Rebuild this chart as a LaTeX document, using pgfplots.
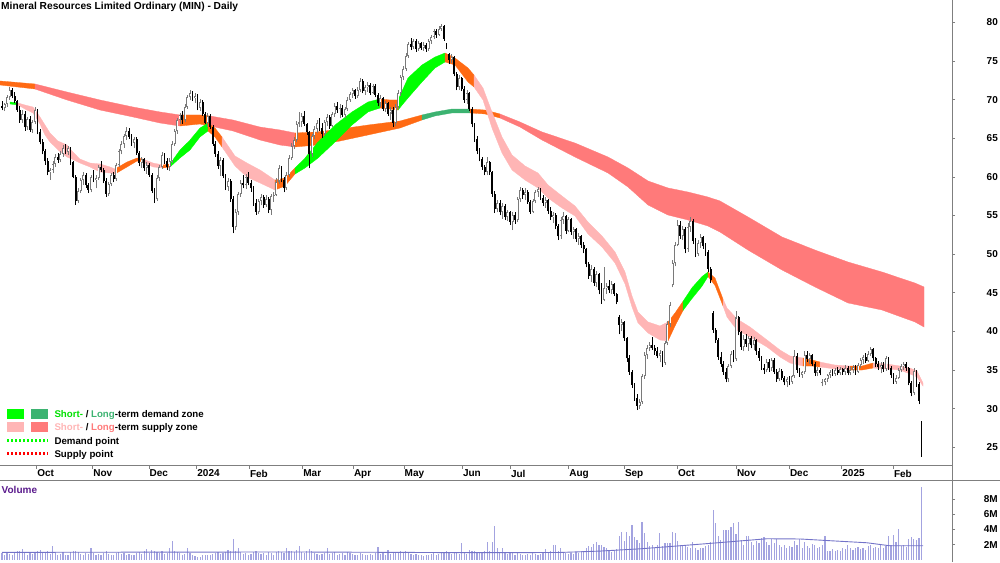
\documentclass[border=0pt]{standalone}
\usepackage{fontspec}
\setmainfont{Liberation Sans}
\usepackage{pgfplots}
\usepackage{pgfplotstable}
\usetikzlibrary{calc}
\pgfplotsset{compat=1.18}

\definecolor{stdem}{HTML}{00FF00}
\definecolor{stdemtxt}{HTML}{00E000}
\definecolor{ltdem}{HTML}{3CB371}
\definecolor{stsup}{HTML}{FFB5B5}
\definecolor{ltsup}{HTML}{FF7A7A}
\definecolor{trans}{HTML}{FF6A13}
\definecolor{volbar}{HTML}{A3A3E0}
\definecolor{volma}{HTML}{7373C8}
\definecolor{volttl}{HTML}{5A1A8C}
\definecolor{upc}{HTML}{7A7A7A}
\definecolor{axgray}{HTML}{7F7F7F}

\pgfplotstableread{
o h l c v
69.2 69.8 68.6 68.9 0.9
68.9 69.6 68.5 69.4 0.7
69.4 70.6 69.1 70.3 1.0
70.3 71.6 70.0 71.2 0.8
71.2 71.5 70.2 70.5 0.6
70.5 71.0 69.6 69.8 0.9
69.8 70.0 68.4 68.6 1.1
68.6 69.2 67.0 67.3 1.2
67.3 68.6 67.0 68.2 1.4
68.2 68.5 66.0 66.4 0.9
66.4 67.8 66.1 67.5 0.7
67.5 67.9 65.8 66.1 1.0
66.1 67.4 65.7 67.1 0.8
67.1 69.0 66.8 68.6 0.9
68.6 68.8 65.5 65.8 1.1
65.8 66.2 64.2 64.5 1.3
64.5 64.9 62.9 63.3 1.0
63.3 63.6 61.6 62.0 0.9
62.0 62.4 60.2 60.6 1.1
60.6 61.2 59.6 60.9 0.8
60.9 62.0 60.5 61.7 1.8
61.7 63.0 61.3 62.6 0.9
62.6 63.1 61.8 62.2 0.7
62.2 63.3 61.9 63.0 0.8
63.0 64.1 62.6 63.8 1.0
63.8 64.2 62.9 63.2 0.6
63.2 64.0 62.8 63.7 0.7
63.7 63.9 61.6 61.9 1.0
61.9 62.1 59.8 60.0 1.1
60.0 60.2 56.4 56.9 1.2
56.9 58.5 56.6 58.2 1.0
58.2 59.9 57.9 59.6 0.8
59.6 60.6 59.0 60.2 0.7
60.2 60.5 58.6 58.9 0.9
58.9 59.2 57.9 58.3 0.8
58.3 60.3 58.0 60.0 1.5
60.0 60.9 59.3 59.6 0.9
59.6 60.2 58.5 59.9 0.7
59.9 61.6 59.6 61.3 0.8
61.3 62.1 60.6 60.9 0.6
60.9 61.1 59.2 59.5 0.9
59.5 59.8 57.4 57.8 1.1
57.8 59.4 57.5 59.1 0.8
59.1 60.5 58.8 60.2 0.7
60.2 60.6 59.3 59.7 0.6
59.7 61.8 59.5 61.5 0.9
61.5 63.6 61.3 63.3 1.0
63.3 64.6 62.9 64.2 0.8
64.2 65.6 63.8 65.3 0.9
65.3 66.4 64.8 66.0 0.7
66.0 66.3 64.9 65.2 0.8
65.2 65.6 64.0 64.4 0.6
64.4 65.2 63.7 64.9 0.7
64.9 65.1 62.8 63.1 0.9
63.1 63.4 61.4 61.8 1.0
61.8 62.6 61.2 62.3 0.8
62.3 62.5 60.8 61.1 1.1
61.1 61.9 60.4 61.6 1.4
61.6 61.8 60.0 60.3 0.9
60.3 60.5 57.9 58.2 1.3
58.2 58.5 56.6 57.1 1.2
57.1 60.2 56.9 59.9 1.0
59.9 61.6 59.5 61.3 0.9
61.3 63.2 61.0 62.8 1.1
62.8 63.1 61.7 62.1 0.8
62.1 62.4 60.9 61.3 0.9
61.3 62.4 60.8 62.0 1.6
62.0 64.6 61.8 64.3 2.5
64.3 66.2 64.0 65.9 1.2
65.9 67.6 65.6 67.3 1.0
67.3 68.3 66.8 68.0 0.9
68.0 68.5 66.9 67.4 0.7
67.4 69.4 67.1 69.1 0.8
69.1 70.6 68.8 70.3 1.5
70.3 71.2 69.9 70.9 0.9
70.9 71.1 69.8 70.2 0.6
70.2 70.8 69.6 70.5 0.5
70.5 70.7 68.6 68.9 0.4
68.9 70.1 68.5 69.7 0.4
69.7 69.9 67.9 68.2 0.6
68.2 68.4 66.8 67.0 0.7
67.0 68.3 66.5 67.9 0.6
67.9 68.1 66.2 66.5 0.7
66.5 66.7 64.0 64.3 0.8
64.3 64.6 62.6 63.0 0.9
63.0 63.3 61.0 61.4 1.0
61.4 62.6 60.1 62.2 0.8
62.2 62.4 59.8 60.1 0.9
60.1 60.4 58.3 58.7 1.0
58.7 59.9 58.2 59.5 1.3
59.5 59.7 56.8 57.2 1.1
57.2 57.5 52.7 53.5 2.8
53.5 55.8 53.1 55.4 1.2
55.4 58.1 55.1 57.8 1.5
57.8 59.6 57.4 59.2 1.0
59.2 60.2 58.5 58.9 0.8
58.9 60.4 58.4 60.0 0.9
60.0 60.6 58.9 59.2 0.7
59.2 59.6 58.1 58.5 0.8
58.5 58.8 56.2 56.6 1.0
56.6 57.1 55.1 55.5 1.1
55.5 57.2 55.2 56.9 0.9
56.9 57.8 56.3 57.4 0.8
57.4 57.6 56.0 56.4 0.9
56.4 57.6 56.1 57.2 0.7
57.2 57.4 55.3 55.7 1.0
55.7 57.8 55.1 57.5 0.9
57.5 58.0 56.8 57.7 0.7
57.7 59.8 57.5 59.4 1.0
59.4 61.5 59.1 61.2 1.2
61.2 61.4 59.3 59.6 1.0
59.6 60.0 58.0 58.5 0.9
58.5 60.6 58.3 60.3 1.5
60.3 62.8 60.0 62.5 1.1
62.5 64.4 62.2 64.0 1.2
64.0 65.2 63.6 64.8 1.0
64.8 67.2 64.5 66.9 1.3
66.9 68.4 66.5 67.1 1.8
67.1 68.3 66.4 67.9 1.0
67.9 68.5 66.6 66.9 0.9
66.9 67.0 65.4 65.8 1.1
65.8 66.0 61.1 63.0 1.4
63.0 65.6 62.6 65.3 1.2
65.3 66.6 64.9 66.2 0.9
66.2 67.4 65.7 67.0 0.8
67.0 67.6 65.9 66.3 0.7
66.3 67.0 65.0 65.6 0.8
65.6 67.4 65.3 67.1 0.9
67.1 68.2 66.6 67.8 1.6
67.8 68.0 66.2 66.6 0.8
66.6 68.4 66.4 68.1 0.9
68.1 69.5 67.8 69.2 1.0
69.2 69.7 68.3 68.6 0.7
68.6 69.4 67.6 68.9 0.8
68.9 69.3 67.7 68.0 0.9
68.0 69.1 67.6 68.8 0.7
68.8 70.3 68.5 70.0 1.0
70.0 71.0 69.7 70.7 0.9
70.7 71.5 70.2 71.2 0.8
71.2 71.4 70.1 70.5 0.6
70.5 71.6 70.2 71.3 0.7
71.3 72.8 71.0 72.4 0.9
72.4 72.7 70.8 71.1 0.8
71.1 71.9 70.6 71.6 0.6
71.6 72.3 71.0 71.9 0.7
71.9 72.1 70.6 70.9 0.8
70.9 72.0 70.7 71.7 0.6
71.7 72.0 70.3 70.6 0.9
70.6 70.9 69.2 69.5 1.7
69.5 70.6 69.1 70.2 0.8
70.2 70.4 68.5 68.8 0.9
68.8 69.8 68.4 69.5 0.7
69.5 69.7 67.9 68.2 1.3
68.2 69.1 67.4 68.7 0.8
68.7 69.0 66.5 67.0 1.0
67.0 69.4 66.6 69.1 0.9
69.1 71.2 68.8 70.8 1.0
70.8 73.2 70.5 72.9 1.2
72.9 74.3 72.6 74.0 1.0
74.0 76.0 73.7 75.7 1.1
75.7 77.5 75.4 77.2 1.0
77.2 78.0 76.4 76.8 0.8
76.8 77.9 76.5 77.6 0.7
77.6 77.8 76.2 76.6 0.8
76.6 77.6 76.3 77.3 0.6
77.3 77.5 76.4 76.7 0.7
76.7 77.4 76.3 77.1 0.5
77.1 77.3 76.2 76.5 0.6
76.5 77.9 76.3 77.6 0.7
77.6 78.4 77.2 78.1 0.8
78.1 79.2 77.9 78.9 0.9
78.9 79.1 78.0 78.4 0.7
78.4 79.5 78.2 79.2 0.8
79.2 79.8 78.9 79.5 0.9
79.5 79.7 77.6 77.9 1.0
77.0 77.3 76.5 76.8 1.1
75.9 76.0 74.6 75.1 1.0
75.1 75.9 74.8 75.5 0.8
75.5 75.6 73.0 73.3 0.9
73.3 73.6 71.2 71.6 1.0
71.6 73.2 71.3 72.8 0.8
72.8 72.9 71.1 71.4 2.2
71.4 71.7 69.6 70.0 1.0
70.0 71.3 69.4 70.9 0.8
70.9 71.0 68.5 68.8 1.3
68.8 69.0 66.4 66.8 1.1
66.8 67.0 64.5 64.9 1.2
64.9 65.3 62.9 63.4 1.0
63.4 63.7 62.0 62.3 0.9
62.3 62.6 60.9 61.3 1.0
61.3 61.6 60.2 60.6 1.1
60.6 62.6 60.3 61.9 2.3
61.9 62.1 60.3 60.6 1.2
60.6 60.7 57.4 57.8 2.4
57.8 58.2 55.3 55.8 4.4
55.8 57.0 55.4 56.6 1.5
56.6 57.0 55.0 55.4 1.0
55.4 56.6 54.6 56.2 1.6
56.2 56.5 54.4 54.8 0.9
54.8 55.7 54.3 55.4 0.8
55.4 55.6 53.8 54.2 0.9
54.2 55.5 53.1 55.1 1.0
55.1 55.5 53.9 54.4 0.7
54.4 57.4 54.1 57.1 1.0
57.1 58.7 56.8 58.3 0.8
58.3 58.6 57.2 57.6 0.7
57.6 58.5 57.0 58.1 0.6
58.1 58.3 56.5 56.8 0.8
56.8 57.0 55.2 55.5 0.7
55.5 57.2 55.3 56.9 0.9
56.9 58.3 56.6 58.0 0.8
58.0 58.7 57.4 58.4 0.7
58.4 58.6 57.0 57.3 0.8
57.3 57.6 56.2 56.6 1.0
56.6 57.4 56.0 57.0 1.4
57.0 57.1 55.2 55.6 0.9
55.6 56.1 54.4 54.8 1.1
54.8 55.4 54.0 55.1 2.0
55.1 55.3 53.2 53.6 2.0
53.6 53.9 51.8 52.3 1.2
52.3 54.8 52.0 54.4 1.6
54.4 55.4 53.9 54.9 1.0
54.9 55.1 52.6 53.0 0.9
53.0 54.8 52.8 54.5 0.8
54.5 54.7 52.5 52.9 0.9
52.9 53.5 52.0 53.2 0.8
53.2 53.4 51.6 51.9 1.0
51.9 52.7 51.2 52.3 0.9
52.3 52.5 50.8 51.2 1.1
51.2 51.6 50.1 50.6 1.2
50.6 50.8 48.3 48.7 1.5
48.7 49.0 46.8 47.2 1.8
47.2 48.6 46.4 48.1 1.7
48.1 48.3 45.9 46.3 2.1
46.3 47.8 45.7 47.4 2.3
47.4 47.6 44.8 45.3 1.9
45.3 46.2 43.6 44.1 2.0
44.1 48.3 43.9 45.6 1.7
45.6 46.3 44.9 45.9 1.6
45.9 46.6 45.0 45.3 1.2
45.3 46.5 44.8 46.1 1.0
46.1 46.3 44.6 44.9 1.3
44.9 45.0 43.5 43.8 1.4
41.9 42.1 39.6 40.8 3.2
40.8 41.6 40.0 41.2 3.7
41.2 41.4 38.8 39.1 2.5
39.1 39.3 36.1 36.5 3.7
36.5 36.9 34.4 34.8 3.2
34.8 35.0 32.7 33.1 4.6
33.1 33.3 31.0 31.4 3.0
31.4 31.9 29.8 30.4 2.6
30.4 31.2 30.0 30.9 2.2
30.9 34.5 30.6 34.2 5.0
34.2 37.3 33.9 36.9 3.6
36.9 38.3 36.4 37.9 2.3
37.9 38.6 37.4 38.2 1.8
38.2 39.3 37.6 37.9 2.0
37.9 38.2 37.0 37.4 1.6
37.4 38.0 36.5 36.8 1.9
36.8 37.6 36.0 37.2 3.6
37.2 37.4 35.4 35.9 1.8
35.9 38.8 35.7 38.5 2.2
38.5 41.3 38.2 40.9 2.2
40.9 43.8 40.6 43.4 2.2
46.0 49.2 45.7 48.8 3.7
48.8 51.6 48.4 51.2 3.6
51.2 54.4 51.0 53.8 2.5
53.8 54.3 52.0 52.4 1.9
52.4 53.6 51.8 53.2 1.8
53.2 53.5 50.1 50.6 2.0
50.6 54.0 50.3 53.5 1.7
53.5 54.8 52.9 54.3 1.6
54.3 54.6 51.3 51.7 2.4
51.7 52.1 49.6 50.0 1.6
50.0 51.8 49.7 51.4 1.3
51.4 52.6 50.8 52.2 1.5
52.2 52.4 50.6 51.0 1.5
51.0 51.5 49.8 50.3 1.8
50.3 50.5 47.7 48.1 2.0
48.1 48.3 46.2 46.6 2.3
42.4 42.6 39.8 40.2 6.6
40.2 40.5 38.5 38.9 4.9
38.9 39.1 36.3 36.7 3.2
36.7 37.3 35.4 35.8 2.6
35.8 36.2 34.4 34.8 4.0
34.8 35.2 33.4 33.8 3.9
33.8 35.8 33.5 35.5 4.0
35.5 37.4 35.2 37.1 4.3
37.1 37.6 36.0 36.4 4.9
36.4 42.7 36.2 41.8 3.4
41.8 42.0 39.5 39.9 5.0
39.9 40.1 37.6 38.0 2.6
38.0 39.5 37.4 39.0 2.0
39.0 39.6 38.0 38.4 3.2
38.4 39.4 37.5 39.1 3.1
39.1 39.4 37.8 38.2 2.3
38.2 39.3 37.6 38.9 2.0
38.9 39.0 37.0 37.4 2.5
37.4 37.8 36.2 36.6 2.2
36.6 36.8 35.0 35.3 2.9
35.3 35.8 34.5 35.0 3.0
35.0 36.4 34.7 36.1 2.3
36.1 36.4 34.8 35.2 2.0
35.2 36.6 34.9 36.3 2.7
36.3 36.5 34.5 34.8 2.2
34.8 35.1 33.5 33.9 2.7
33.9 35.2 33.6 34.9 1.9
34.9 35.1 33.7 34.0 1.7
34.0 34.2 33.0 33.4 2.0
33.4 34.1 32.8 33.8 1.6
33.8 34.2 33.0 33.5 1.8
33.5 34.4 33.2 34.2 1.7
34.2 37.6 34.0 36.8 2.5
36.8 37.2 34.6 35.0 2.0
35.0 35.2 34.1 34.4 2.7
34.4 34.9 34.0 34.7 1.5
34.7 37.4 34.5 37.0 2.3
37.0 37.5 36.1 36.4 1.8
36.4 37.2 35.8 36.9 1.6
36.9 37.1 35.5 35.8 2.1
35.8 36.0 34.2 34.6 1.9
34.6 35.4 34.2 35.0 1.5
35.0 35.2 34.3 34.6 1.7
33.3 33.8 32.9 33.4 2.0
33.4 34.0 33.0 33.8 3.2
33.8 34.5 33.5 34.3 1.2
34.3 35.0 34.0 34.7 1.1
34.7 35.1 34.2 34.5 1.4
34.5 35.3 34.2 35.0 1.2
35.0 35.4 34.3 34.6 1.3
34.6 35.4 34.3 35.1 1.1
35.1 35.3 34.4 34.7 1.5
34.7 35.6 34.4 35.3 1.4
35.3 35.5 34.3 34.6 1.9
34.6 35.4 34.3 35.0 1.5
35.0 35.6 34.6 35.4 1.3
35.4 35.6 34.4 34.8 1.6
34.8 35.9 34.6 35.6 1.7
35.6 36.6 35.3 36.3 1.4
36.3 37.0 35.8 36.7 1.5
36.7 37.2 35.9 36.2 1.3
36.2 37.4 36.0 37.1 1.8
37.1 38.0 36.8 37.7 2.0
37.7 37.9 36.2 36.5 1.6
36.5 36.7 35.4 35.8 1.7
35.8 36.2 35.0 35.4 1.5
35.4 36.0 34.6 35.7 1.9
35.7 36.0 34.8 35.1 1.6
35.1 36.8 34.9 36.5 1.8
36.5 36.7 35.0 35.3 3.1
35.3 35.5 34.0 34.4 2.0
34.4 34.6 33.2 33.5 3.3
33.5 34.3 33.2 34.0 2.3
34.0 35.2 33.8 35.0 4.1
35.0 35.8 34.7 35.5 1.8
35.5 36.0 35.0 35.8 1.9
35.8 36.1 34.9 35.2 1.7
35.2 35.4 33.0 33.3 2.8
33.3 33.6 31.6 32.0 3.0
32.0 35.2 31.8 34.9 2.7
34.9 35.0 32.8 33.2 2.6
33.2 33.4 30.6 31.0 2.9
28.2 28.4 23.8 24.2 9.6
}\price

\newcommand{\band}[2]{\addplot[fill=#1, draw=#1, line width=0.3pt, mark=none] coordinates {#2} -- cycle;}

\begin{document}
\begin{tikzpicture}[x=1pt,y=1pt]

\begin{axis}[
  at={(0,96.3)}, anchor=south west,
  scale only axis, width=952pt, height=465.7pt,
  xmin=0, xmax=952, ymin=22.62, ymax=82.89,
  axis x line*=bottom, axis y line*=right,
  axis line style={-, draw=axgray, line width=0.9pt},
  tick align=outside, major tick length=3pt,
  tick style={draw=axgray, line width=0.6pt},
  xtick={36.7,92.7,149,196.7,249.3,302.7,353.3,404,462.3,510.3,568.7,624.3,677.3,736.3,789.3,841.7,893.3},
  xticklabels={Oct,Nov,Dec,2024,Feb,Mar,Apr,May,Jun,Jul,Aug,Sep,Oct,Nov,Dec,2025,Feb},
  xticklabel style={anchor=north west, inner sep=0pt, xshift=0.5pt, yshift=-1pt, font=\fontsize{10}{12}\selectfont\bfseries},
  ytick={25,30,35,40,45,50,55,60,65,70,75,80},
  yticklabels={25,30,35,40,45,50,55,60,65,70,75,80},
  yticklabel style={anchor=east, inner sep=0pt, xshift=43pt, font=\fontsize{10}{12}\selectfont\bfseries},
]
\coordinate (O) at (rel axis cs:0,0);
% long-term band
\band{trans}{(0,72.41)(35,72.02)(35,71.37)(0,71.89)}
\band{ltsup}{(35,72.02)(67,70.98)(100,69.95)(133,69.04)(160,68.40)(180,68.01)(180,66.58)(160,66.97)(133,67.75)(100,68.65)(67,69.95)(35,71.37)}
\band{trans}{(180,68.01)(200,68.01)(210,67.88)(210,66.58)(200,66.84)(180,66.58)}
\band{ltsup}{(210,67.88)(233,67.36)(260,66.45)(280,66.07)(295,65.68)(295,63.87)(280,64.12)(260,64.77)(233,65.94)(210,66.58)}
\band{trans}{(295,65.68)(317,65.81)(340,66.19)(368,66.71)(400,67.23)(422,68.01)(422,67.36)(400,66.32)(368,65.42)(340,64.64)(317,64.12)(295,63.87)}
\band{ltdem}{(422,68.01)(435,68.40)(452,68.78)(470,68.78)(470,68.27)(452,68.27)(435,67.88)(422,67.36)}
\band{trans}{(470,68.78)(485,68.65)(500,68.14)(500,67.62)(485,68.14)(470,68.27)}
\band{ltsup}{(500,68.14)(520,67.10)(542,65.81)(575,64.38)(608,62.57)(628,61.15)(648,59.47)(668,58.56)(688,58.04)(708,57.39)(720,56.88)(748,54.81)(782,52.22)(815,50.53)(848,48.98)(882,47.69)(915,46.26)(924,45.75)(924,40.57)(915,41.22)(882,42.77)(848,43.68)(815,45.75)(782,47.95)(748,50.53)(720,52.86)(708,53.64)(688,54.42)(668,55.06)(648,56.36)(628,58.69)(608,60.50)(575,62.57)(542,64.77)(520,66.45)(500,67.62)}
% short-term band
\band{stdem}{(10,69.69)(18,69.56)(18,69.30)(10,69.43)}
\band{stsup}{(18,69.56)(25,69.30)(33,69.04)(40,67.75)(45,66.71)(50,65.68)(58,64.64)(67,64.12)(72,63.35)(80,62.31)(90,61.79)(100,61.67)(110,61.28)(115,61.02)(115,60.37)(110,60.50)(100,60.63)(90,61.28)(80,61.79)(72,62.31)(67,62.57)(58,63.48)(50,64.51)(45,65.42)(40,66.84)(33,68.27)(25,68.78)(18,69.30)}
\band{trans}{(115,61.02)(127,61.92)(137,62.44)(143,62.31)(143,61.92)(137,62.05)(127,61.28)(115,60.37)}
\band{stsup}{(143,62.31)(153,61.79)(163,61.54)(163,61.15)(153,61.28)(143,61.92)}
\band{trans}{(163,61.54)(170,61.67)(170,61.28)(163,61.15)}
\band{stdem}{(170,61.67)(180,63.48)(190,64.77)(200,66.32)(208,66.97)(208,65.94)(200,65.16)(190,63.48)(180,62.44)(170,61.28)}
\band{trans}{(208,66.97)(215,66.32)(222,65.16)(222,63.87)(215,65.16)(208,65.94)}
\band{stsup}{(222,65.16)(235,62.70)(247,61.79)(260,60.89)(275,59.59)(275,58.30)(260,59.21)(247,59.98)(235,61.41)(222,63.87)}
\band{trans}{(275,59.59)(285,59.85)(295,61.15)(295,60.37)(285,58.82)(275,58.30)}
\band{stdem}{(295,61.15)(305,62.44)(318,64.51)(335,66.71)(352,68.40)(368,69.69)(380,70.08)(380,68.91)(368,68.40)(352,66.71)(335,64.51)(318,62.44)(305,61.15)(295,60.37)}
\band{trans}{(380,70.08)(390,69.95)(398,69.95)(398,68.65)(390,68.78)(380,68.91)}
\band{stdem}{(398,69.95)(408,72.80)(422,74.48)(435,75.51)(445,76.03)(445,74.87)(435,74.09)(422,72.28)(408,70.21)(398,68.65)}
\band{trans}{(445,76.03)(455,75.38)(468,74.09)(474,73.18)(474,71.63)(468,72.28)(455,74.48)(445,74.87)}
\band{stsup}{(474,73.18)(483,71.50)(492,68.40)(502,65.16)(512,62.83)(525,61.41)(538,60.50)(548,58.95)(562,57.52)(575,56.23)(588,54.16)(602,52.35)(615,50.28)(625,47.69)(632,44.58)(638,42.51)(648,41.22)(660,40.70)(668,41.22)(668,38.76)(660,38.89)(648,39.79)(638,41.09)(632,43.16)(625,46.14)(615,48.85)(602,50.92)(588,52.61)(575,54.94)(562,55.97)(548,57.26)(538,58.56)(525,59.59)(512,60.89)(502,63.09)(492,66.32)(483,69.95)(474,71.63)}
\band{trans}{(668,41.22)(675,42.38)(683,43.90)(683,42.70)(675,40.70)(668,38.76)}
\band{stdem}{(683,43.90)(692,45.65)(702,47.10)(708,47.69)(708,47.10)(702,45.85)(692,44.25)(683,42.70)}
\band{trans}{(708,47.69)(715,46.91)(723,44.19)(723,43.29)(715,45.95)(708,47.10)}
\band{stsup}{(723,44.19)(727,43.03)(737,41.61)(750,40.57)(767,38.89)(780,37.59)(790,36.82)(803,36.56)(803,35.52)(790,35.91)(780,36.69)(767,37.98)(750,39.28)(737,40.18)(727,41.86)(723,43.29)}
\band{trans}{(803,36.56)(812,36.30)(820,36.04)(820,35.39)(812,35.52)(803,35.52)}
\band{stsup}{(820,36.04)(835,35.65)(850,35.52)(850,35.00)(835,35.14)(820,35.39)}
\band{trans}{(850,35.52)(862,35.52)(873,35.91)(873,35.26)(862,35.00)(850,35.00)}
\band{stsup}{(873,35.91)(887,35.78)(900,35.52)(910,35.26)(917,34.88)(923,33.32)(923,32.93)(917,34.10)(910,34.49)(900,35.00)(887,35.14)(873,35.26)}
% wicks
\addplot[draw=none, mark=none, error bars/.cd, y dir=plus, y explicit, error mark=none,
  error bar style={draw=upc, line width=0.6pt}]
  table[x expr={2+2.54*\coordindex}, y=l, y error plus expr={\thisrow{c}>=\thisrow{o} ? \thisrow{h}-\thisrow{l} : 0}]{\price};
\addplot[draw=none, mark=none, error bars/.cd, y dir=plus, y explicit, error mark=none,
  error bar style={draw=black, line width=0.6pt}]
  table[x expr={2+2.54*\coordindex}, y=l, y error plus expr={\thisrow{c}<\thisrow{o} ? \thisrow{h}-\thisrow{l} : 0}]{\price};
% bodies: up (hollow grey), down (black)
\addplot[draw=none, mark=none, error bars/.cd, y dir=plus, y explicit, error mark=none,
  error bar style={draw=upc, line width=2.0pt}]
  table[x expr={2+2.54*\coordindex}, y=o, y error plus expr={max(\thisrow{c}-\thisrow{o},0)}]{\price};
\addplot[draw=none, mark=none, error bars/.cd, y dir=plus, y explicit, error mark=none,
  error bar style={draw=white, line width=0.7pt}]
  table[x expr={2+2.54*\coordindex}, y expr={\thisrow{o}+0.13}, y error plus expr={max(\thisrow{c}-\thisrow{o}-0.26,0)}]{\price};
\addplot[draw=none, mark=none, error bars/.cd, y dir=plus, y explicit, error mark=none,
  error bar style={draw=black, line width=1.8pt}]
  table[x expr={2+2.54*\coordindex}, y=c, y error plus expr={max(\thisrow{o}-\thisrow{c},0)}]{\price};
\end{axis}

\begin{axis}[
  at={($(O)+(0,-94.1)$)}, anchor=south west,
  scale only axis, width=952pt, height=79.8pt,
  xmin=0, xmax=952, ymin=0, ymax=10.54,
  axis x line=none, axis y line*=right,
  axis line style={-, draw=axgray, line width=0.9pt},
  tick align=outside, major tick length=3pt,
  tick style={draw=axgray, line width=0.6pt},
  ytick={2,4,6,8}, yticklabels={2M,4M,6M,8M},
  yticklabel style={anchor=east, inner sep=0pt, xshift=43pt, font=\fontsize{10}{12}\selectfont\bfseries},
]
\addplot[ycomb, draw=volbar, line width=1.2pt, mark=none] table[x expr={2+2.54*\coordindex}, y=v]{\price};
\addplot[volma, line width=0.9pt, mark=none] coordinates {
(2,0.98) (100,1.0) (200,1.02) (300,1.03) (400,0.98) (450,0.95) (500,0.94) (560,0.97)
(600,1.15) (640,1.45) (667,1.72) (713,2.2) (767,2.78) (800,2.75) (833,2.5) (867,2.25)
(890,1.85) (923,1.86)};
\end{axis}

\begin{scope}[shift={($(O)+(0,-96.3)$)}]
% frame lines
\draw[axgray, line width=0.9pt] (952,0) -- (952,562);
\draw[axgray, line width=0.9pt] (0,82) -- (1000,82);

% title
\node[anchor=base west, inner sep=0pt, font=\fontsize{10.2}{12}\selectfont\bfseries] at (1,552.4) {Mineral Resources Limited Ordinary (MIN) - Daily};
% volume title
\node[anchor=base west, inner sep=0pt, font=\fontsize{10}{12}\selectfont\bfseries, text=volttl] at (1.5,69) {Volume};

% legend
\fill[stdem] (7.3,143) rectangle (24,153);
\fill[ltdem] (31,143) rectangle (48.3,153);
\fill[stsup] (7.3,129.7) rectangle (24,139.7);
\fill[ltsup] (31,129.7) rectangle (48.3,139.7);
\draw[stdem, line width=2.5pt, dash pattern=on 2pt off 2pt] (7.3,121.3) -- (48,121.3);
\draw[red, line width=2.5pt, dash pattern=on 2pt off 2pt] (7.3,108.7) -- (48,108.7);
\begin{scope}[every node/.style={anchor=base west, inner sep=0pt, font=\fontsize{9.7}{12}\selectfont\bfseries}]
\node at (54.3,144.3) {\textcolor{stdemtxt}{Short-} / \textcolor{ltdem}{Long}-term demand zone};
\node at (54.3,131) {\textcolor{stsup}{Short-} / \textcolor{ltsup}{Long}-term supply zone};
\node at (54.3,117.7) {Demand point};
\node at (54.3,105) {Supply point};
\end{scope}
\end{scope}
\pgfresetboundingbox
\path[use as bounding box] ($(O)+(0,-96.3)$) rectangle ($(O)+(1000,465.7)$);
\end{tikzpicture}
\end{document}
